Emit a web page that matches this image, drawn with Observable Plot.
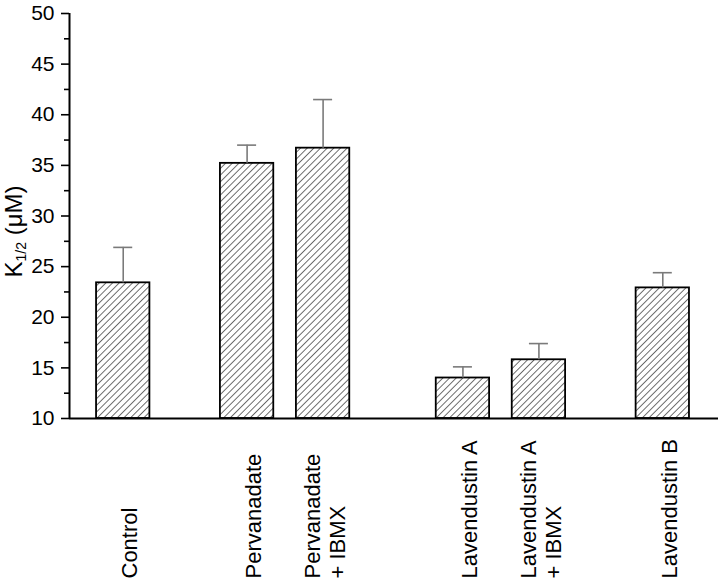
<!DOCTYPE html>
<html>
<head>
<meta charset="utf-8">
<script src="https://cdn.jsdelivr.net/npm/d3@7"></script>
<script src="https://cdn.jsdelivr.net/npm/@observablehq/plot@0.6"></script>
<style>
  html, body { margin: 0; padding: 0; background: #fff; }
  body { font-family: "Liberation Sans", Arial, sans-serif; }
  svg { display: block; }
</style>
</head>
<body>
<div id="chart"></div>
<script>
// ---- data ----
const categories = ["Control", "Pervanadate", "Pervanadate\n+ IBMX", "Lavendustin A", "Lavendustin A\n+ IBMX", "Lavendustin B"];
const slots = [1, 2.63, 3.63, 5.47, 6.47, 8.1];          // bar slot along the (gapped) x axis
const means = [23.4, 35.2, 36.7, 14.0, 15.8, 22.9];       // K1/2 (µM)
const errors = [3.5, 1.8, 4.8, 1.1, 1.6, 1.5];            // SE (upper bar)
const majorTicks = [10, 15, 20, 25, 30, 35, 40, 45, 50];
const minorTicks = [12.5, 17.5, 22.5, 27.5, 32.5, 37.5, 42.5, 47.5];

const data = categories.map((c, i) => ({label: c, slot: slots[i], mean: means[i], top: means[i] + errors[i]}));
const singleLine = data.filter(d => !d.label.includes("\n"));
const doubleLine = data.filter(d => d.label.includes("\n"));

const halfBar = 0.351, halfCap = 0.125;
const xDomain = [0.293, 8.833];
const font = '"Liberation Sans", Arial, sans-serif';
const labelStyle = {x: "slot", frameAnchor: "bottom", text: "label", rotate: -90, textAnchor: "start",
                    dy: 160, fontSize: 22, lineHeight: 1.15, fill: "#000"};

const chart = Plot.plot({
  width: 720,
  height: 584,
  marginLeft: 69,
  marginRight: 2,
  marginTop: 13,
  marginBottom: 166,
  style: {fontFamily: font, background: "#fff", color: "#000"},
  x: {domain: xDomain, axis: null},
  y: {domain: [10, 50]},
  marks: [
    Plot.rect(data, {
      x1: d => d.slot - halfBar, x2: d => d.slot + halfBar,
      y1: 10, y2: "mean",
      fill: "url(#hatch)", stroke: "#000", strokeWidth: 1.8
    }),
    Plot.ruleX(data, {x: "slot", y1: "mean", y2: "top", stroke: "#7a7a7a", strokeWidth: 1.6}),
    Plot.ruleY(data, {y: "top", x1: d => d.slot - halfCap, x2: d => d.slot + halfCap, stroke: "#7a7a7a", strokeWidth: 1.6}),
    Plot.ruleY([10], {stroke: "#000", strokeWidth: 2}),
    Plot.ruleX([xDomain[0]], {y1: 10, y2: 50, stroke: "#000", strokeWidth: 2}),
    Plot.axisY({ticks: majorTicks, tickSize: 8, tickPadding: 7, fontSize: 21, strokeWidth: 1.6, label: null}),
    Plot.axisY({ticks: minorTicks, tickSize: 5, tickFormat: () => "", strokeWidth: 1.6, label: null}),
    Plot.text(singleLine, {...labelStyle, dx: 14}),
    Plot.text(doubleLine, {...labelStyle, dx: 22})
  ]
});

const svg = d3.select(chart);

// make sure the y tick labels use the large size of the reference
svg.selectAll('g[aria-label="y-axis tick label"]').attr("font-size", 21)
  .selectAll("text").attr("font-size", 21);

// hatch pattern for the bars
const defs = svg.insert("defs", ":first-child");
const pat = defs.append("pattern")
  .attr("id", "hatch")
  .attr("patternUnits", "userSpaceOnUse")
  .attr("width", 4.7).attr("height", 10)
  .attr("patternTransform", "rotate(45)");
pat.append("rect").attr("width", 4.7).attr("height", 10).attr("fill", "#fff");
pat.append("line").attr("x1", 2.35).attr("y1", 0).attr("x2", 2.35).attr("y2", 10)
  .attr("stroke", "#444").attr("stroke-width", 0.8);

// y-axis title with subscript
const ys = chart.scale("y");
const yMid = (ys.apply(10) + ys.apply(50)) / 2 + 16;
const t = svg.append("text")
  .attr("transform", `translate(14,${yMid}) rotate(-90)`)
  .attr("text-anchor", "middle")
  .attr("dy", "0.35em")
  .attr("font-family", font)
  .attr("font-size", 24)
  .attr("fill", "#000");
t.append("tspan").text("K");
t.append("tspan").attr("font-size", 14).attr("dy", 4).text("1/2");
t.append("tspan").attr("dy", -4).text(" (\u03BCM)");

document.getElementById("chart").appendChild(chart);
</script>
</body>
</html>
